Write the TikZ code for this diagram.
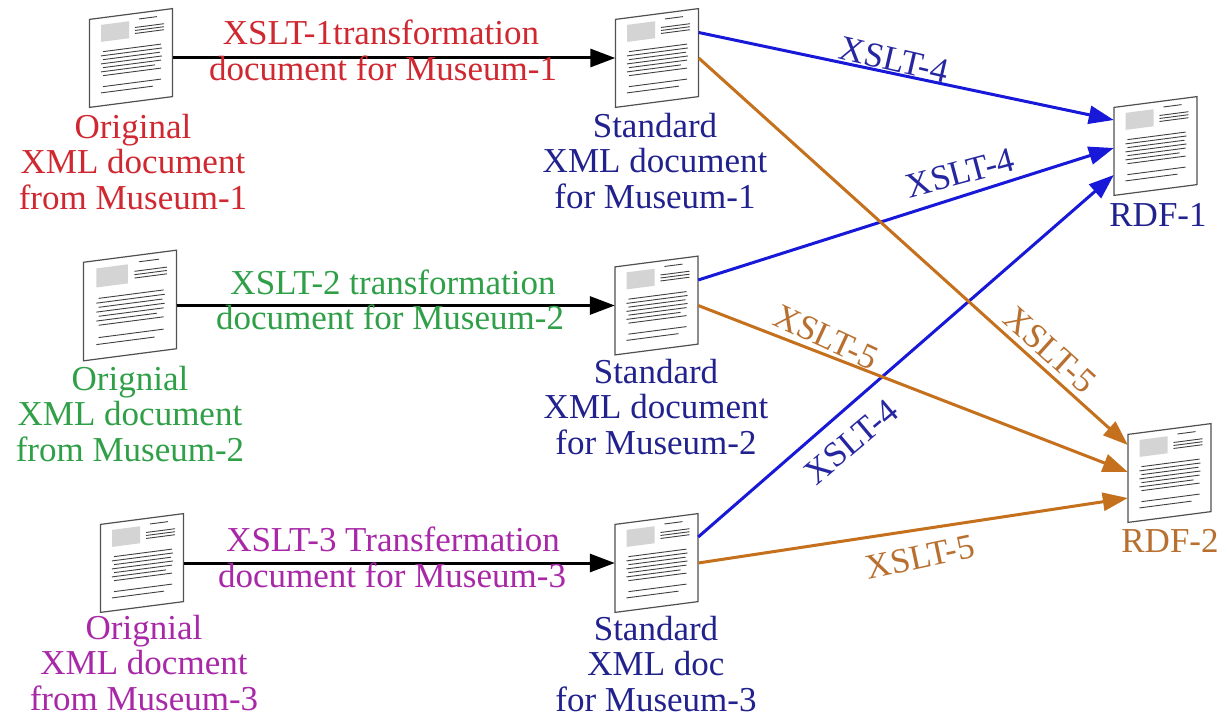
\documentclass[tikz,border=0pt]{standalone}
\usepackage{fontspec}
\setmainfont{Liberation Serif}
\usetikzlibrary{arrows.meta,calc}
\definecolor{cred}{HTML}{D02830}
\definecolor{cgreen}{HTML}{30A048}
\definecolor{cpurple}{HTML}{A828A8}
\definecolor{cnavy}{HTML}{22228E}
\definecolor{clabblue}{HTML}{2626A0}
\definecolor{cblue}{HTML}{1818D8}
\definecolor{corange}{HTML}{C4701C}
\definecolor{ctan}{HTML}{B87030}
\definecolor{cframe}{HTML}{505050}
\definecolor{cline}{HTML}{404040}
\definecolor{cbox}{HTML}{D4D4D4}
\tikzset{
  bigfont/.style={font=\fontsize{35}{35.5}\selectfont},
  vlab/.style={bigfont, align=center, inner sep=0pt, anchor=north},
  elab/.style={bigfont, inner sep=0pt, anchor=base},
  rlab/.style={bigfont, inner sep=0pt, anchor=center},
  iconnode/.style={draw=none, inner sep=0pt, minimum width=83pt, minimum height=88pt},
  bigiconnode/.style={draw=none, inner sep=0pt, minimum width=93pt, minimum height=99pt},
  iconline/.style={draw=cline, line width=0.9pt},
  conn/.style={line width=3pt, -{Triangle[length=25pt,width=18pt]}},
  harrow/.style={conn, draw=black},
  barrow/.style={conn, draw=cblue},
  oarrow/.style={conn, draw=corange},
  docicon/.pic={
    \begin{scope}[cm={1,0.13,0,1,(0,0)}]
      \fill[white] (-41.5,-44) rectangle (41.5,44);
      \fill[cbox] (-30,-37) rectangle (-2,-20);
      \draw[iconline] (8,-38) -- (26,-38);
      \draw[iconline] (4,-30) -- (33,-30) (4,-27) -- (33,-27) (4,-24) -- (33,-24);
      \draw[iconline] (-28,-10) -- (30,-10) (-30,-6) -- (31,-6) (-28,-2) -- (29,-2)
        (-30,2) -- (31,2) (-28,6) -- (30,6) (-30,10) -- (24,10) (-28,14) -- (30,14);
      \draw[iconline] (-28,25) -- (30,25) (-30,31) -- (22,31);
      \draw[draw=cframe, line width=1.2pt] (-41.5,-44) rectangle (41.5,44);
    \end{scope}
  }
}
\begin{document}
\begin{tikzpicture}[x=1pt,y=-1pt]
\fill[white] (0,0) rectangle (1228,717);
\useasboundingbox (0,0) rectangle (1228,717);

% icon nodes
\node[iconnode] (doc1) at (131,58) {};
\node[iconnode] (std1) at (657,58) {};
\node[bigiconnode] (doc2) at (130,305.5) {};
\node[iconnode] (std2) at (656.5,305.5) {};
\node[iconnode] (doc3) at (142,563) {};
\node[iconnode] (std3) at (656.5,563) {};
\node[iconnode] (rdf1) at (1155.5,146) {};
\node[iconnode] (rdf2) at (1169.5,473) {};

\pic at (doc1.center) {docicon};
\pic at (std1.center) {docicon};
\pic[scale=1.12] at (doc2.center) {docicon};
\pic at (std2.center) {docicon};
\pic at (doc3.center) {docicon};
\pic at (std3.center) {docicon};
\pic at (rdf1.center) {docicon};
\pic at (rdf2.center) {docicon};

% vertex labels
\node[vlab, text=cred] (doc1t) at (133,114) {Original\\XML document\\from Museum-1};
\node[vlab, text=cnavy] (std1t) at (655,113) {Standard\\XML document\\for Museum-1};
\node[vlab, text=cgreen] (doc2t) at (130,366) {Orignial\\XML document\\from Museum-2};
\node[vlab, text=cnavy] (std2t) at (656,359) {Standard\\XML document\\for Museum-2};
\node[vlab, text=cpurple] (doc3t) at (144,615) {Orignial\\XML docment\\from Museum-3};
\node[vlab, text=cnavy] (std3t) at (656,616) {Standard\\XML doc\\for Museum-3};
\node[vlab, text=cnavy] (rdf1t) at (1158,203) {RDF-1};
\node[vlab, text=ctan] (rdf2t) at (1170,529) {RDF-2};

% horizontal connectors
\draw[harrow] (doc1.east) -- (std1.west);
\draw[harrow] (doc2.east) -- (std2.west);
\draw[harrow] (doc3.east) -- (std3.west);

\node[elab, text=cred] (t1a) at (381,45) {XSLT-1transformation};
\node[elab, text=cred] (t1b) at (383,81) {document for Museum-1};
\node[elab, text=cgreen] (t2a) at (393,294) {XSLT-2 transformation};
\node[elab, text=cgreen] (t2b) at (390,329) {document for Museum-2};
\node[elab, text=cpurple] (t3a) at (393,551) {XSLT-3 Transfermation};
\node[elab, text=cpurple] (t3b) at (392,587) {document for Museum-3};

% to RDF-1
\draw[barrow] ($(std1.east)+(0,-25.5)$) -- ($(rdf1.west)+(0,-26)$);
\draw[barrow] ($(std2.east)+(0,-25.5)$) -- ($(rdf1.west)+(0,2)$);
\draw[barrow] ($(std3.east)+(0,-26)$) -- ($(rdf1.west)+(0,29)$);
% to RDF-2
\draw[oarrow] (std1.east) -- ($(rdf2.west)+(0,-28)$);
\draw[oarrow] (std2.east) -- ($(rdf2.west)+(0,-1)$);
\draw[oarrow] (std3.east) -- ($(rdf2.west)+(0,25)$);

\node[rlab, text=clabblue, rotate=-13] (x4a) at (894,60) {XSLT-4};
\node[rlab, text=clabblue, rotate=15] (x4b) at (960,173) {XSLT-4};
\node[rlab, text=clabblue, rotate=40] (x4c) at (851,442) {XSLT-4};
\node[rlab, text=ctan, rotate=-42] (x5a) at (1050,350) {XSLT-5};
\node[rlab, text=ctan, rotate=-25] (x5b) at (826,337) {XSLT-5};
\node[rlab, text=ctan, rotate=12] (x5c) at (920,557) {XSLT-5};
\end{tikzpicture}
\end{document}
